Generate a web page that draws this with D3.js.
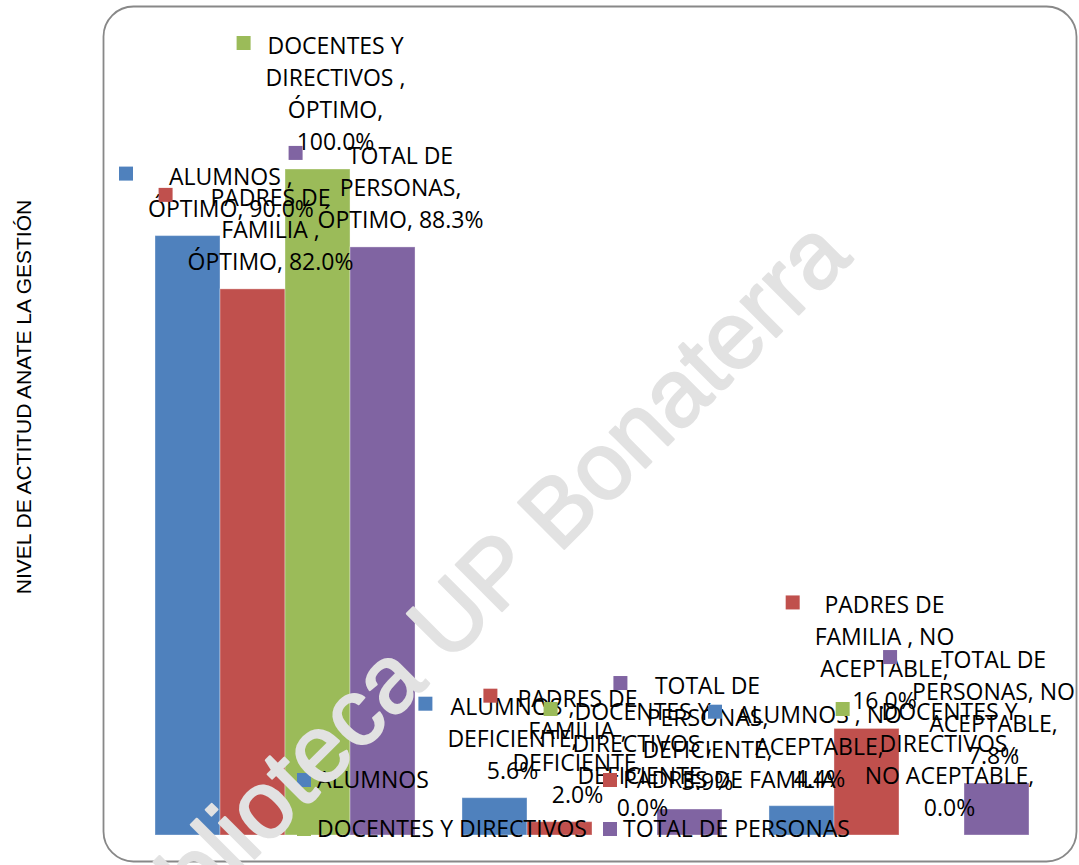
<!DOCTYPE html>
<html><head><meta charset="utf-8">
<script src="https://cdn.jsdelivr.net/npm/d3@7"></script>
<style>html,body{margin:0;padding:0;background:#fff} svg{display:block}</style>
</head><body>
<script>
// ---------- DATA ----------
const categories = ["ÓPTIMO", "DEFICIENTE", "NO ACEPTABLE"];
const seriesNames = ["ALUMNOS ", "PADRES DE FAMILIA ", "DOCENTES Y DIRECTIVOS ", "TOTAL DE PERSONAS"];
const legendLabels = ["ALUMNOS", "PADRES DE FAMILIA", "DOCENTES Y DIRECTIVOS", "TOTAL DE PERSONAS"];
const alumnos  = [90.0, 5.6, 4.4];
const padres   = [82.0, 2.0, 16.0];
const docentes = [100.0, 0.0, 0.0];
const total    = [88.3, 3.9, 7.8];
const yAxisTitle = "NIVEL DE ACTITUD ANATE LA GESTIÓN";
const watermarkText = "Biblioteca UP Bonaterra";

// ---------- STYLE / LAYOUT ----------
const colors = ["#4F81BD", "#C0504D", "#9BBB59", "#8064A2"];
const W = 1079, H = 865;
const plot = {left: 155, right: 1029, top: 169, bottom: 835};
const labelFont = "'Open Sans', sans-serif";
const labelSize = 23;
const lineH = 32;
const wrapWidth = 174;

const values = [alumnos, padres, docentes, total];

const svg = d3.select("body").append("svg").attr("width", W).attr("height", H);

// chart border
svg.append("rect").attr("x", 103.5).attr("y", 6.5).attr("width", 973).attr("height", 855)
  .attr("rx", 30).attr("ry", 30).attr("fill", "#fff").attr("stroke", "#888").attr("stroke-width", 1.8);

const x0 = d3.scaleBand().domain(categories).range([plot.left, plot.right]).paddingInner(0.153).paddingOuter(0);
const x1 = d3.scaleBand().domain(d3.range(seriesNames.length)).range([0, x0.bandwidth()]).padding(0);
const y = d3.scaleLinear().domain([0, 100]).range([plot.bottom, plot.top]);

// bars
const bars = [];
categories.forEach((c, ci) => {
  seriesNames.forEach((s, si) => {
    bars.push({c, ci, si, v: values[si][ci]});
  });
});
svg.append("g").selectAll("rect").data(bars).join("rect")
  .attr("x", d => x0(d.c) + x1(d.si))
  .attr("y", d => y(d.v))
  .attr("width", x1.bandwidth())
  .attr("height", d => y(0) - y(d.v))
  .attr("fill", d => colors[d.si])
  .attr("stroke", "rgba(255,255,255,0.35)").attr("stroke-width", 1);

// y-axis title
svg.append("text").attr("transform", "translate(31,397) rotate(-90)")
  .attr("text-anchor", "middle").attr("font-family", "'Liberation Sans', Arial, sans-serif")
  .attr("font-size", 21).attr("fill", "#000").text(yAxisTitle);

// measuring helper
const meas = svg.append("text").attr("font-family", labelFont).attr("font-size", labelSize).attr("visibility", "hidden");
function tw(t) { meas.text(t); return meas.node().getComputedTextLength(); }
function wrap(str) {
  const words = str.split(/\s+/).filter(w => w.length);
  const lines = []; let cur = "";
  words.forEach(w => {
    const test = cur ? cur + " " + w : w;
    if (cur && tw(test) > wrapWidth) { lines.push(cur); cur = w; }
    else cur = test;
  });
  if (cur) lines.push(cur);
  return lines;
}

// data labels (outside end, with legend key)
const labG = svg.append("g");
bars.forEach(d => {
  const txt = `${seriesNames[d.si]}, ${categories[d.ci]}, ${d.v.toFixed(1)}%`;
  const lines = wrap(txt);
  const maxW = d3.max(lines, tw);
  let cx = x0(d.c) + x1(d.si) + x1.bandwidth() / 2 + 18;
  const keyOff = 29;
  if (cx - maxW / 2 - keyOff < 119) cx = 119 + keyOff + maxW / 2;
  if (cx + maxW / 2 > 1075) cx = 1075 - maxW / 2;
  const lastBase = y(d.v) - 19;
  const firstBase = lastBase - (lines.length - 1) * lineH;
  const g = labG.append("g");
  g.append("rect").attr("x", cx - maxW / 2 - keyOff).attr("y", firstBase - 18)
    .attr("width", 14).attr("height", 14).attr("fill", colors[d.si]);
  lines.forEach((l, i) => {
    g.append("text").attr("x", cx).attr("y", firstBase + i * lineH)
      .attr("text-anchor", "middle").attr("font-family", labelFont).attr("font-size", labelSize)
      .attr("fill", "#000").text(l);
  });
});

// legend
const legCols = [297, 603], legRows = [788, 837];
const legG = svg.append("g");
legendLabels.forEach((l, i) => {
  const lx = legCols[i % 2], ly = legRows[Math.floor(i / 2)];
  legG.append("rect").attr("x", lx).attr("y", ly - 15).attr("width", 14).attr("height", 14).attr("fill", colors[i]);
  legG.append("text").attr("x", lx + 20).attr("y", ly).attr("font-family", labelFont)
    .attr("font-size", labelSize).attr("fill", "#000").text(l);
});

// watermark
svg.append("text").attr("transform", "translate(138,975) rotate(-45)")
  .attr("font-family", "'Liberation Sans', Arial, sans-serif").attr("font-size", 95)
  .attr("fill", "#e2e2e2").attr("stroke", "#e2e2e2").attr("stroke-width", 2.2)
  .attr("stroke-linejoin", "round").text(watermarkText);
</script>
</body></html>
